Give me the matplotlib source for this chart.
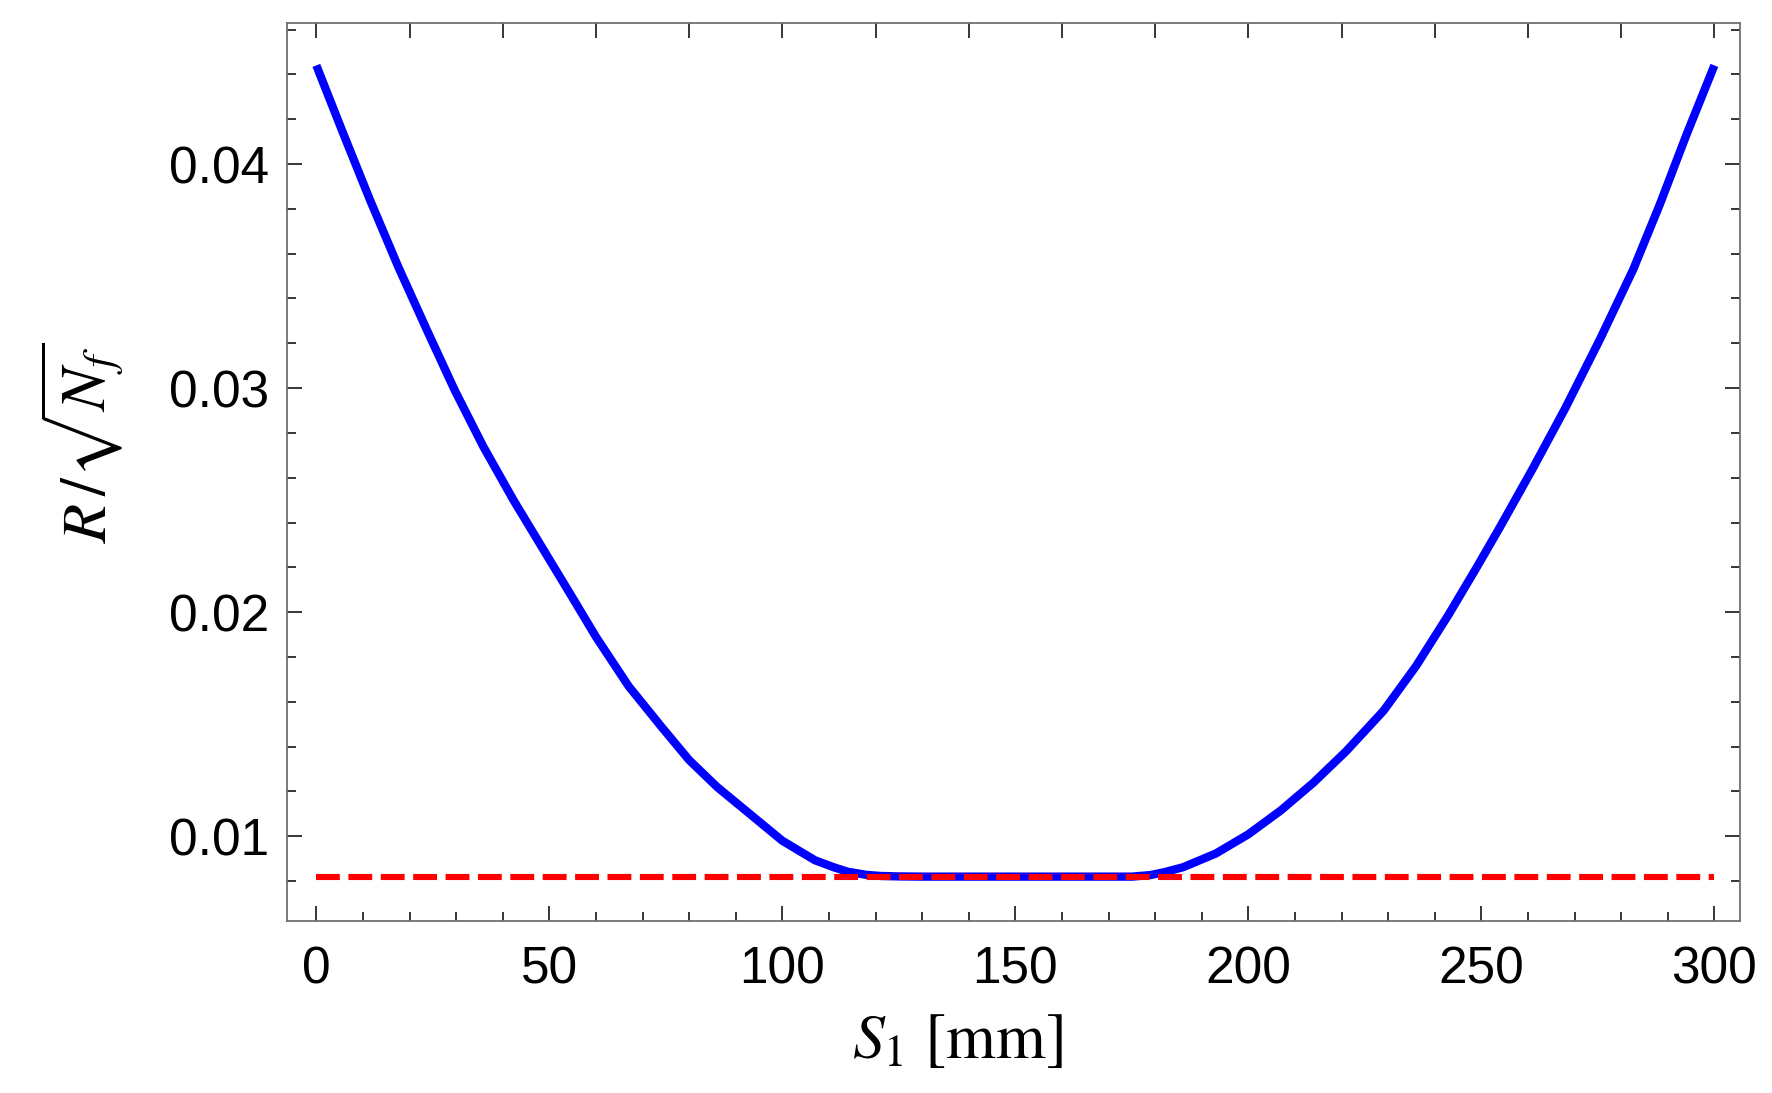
import numpy as np
import matplotlib.pyplot as plt
from matplotlib.ticker import MultipleLocator

# --- data ---
s1_mm = [0, 5.5, 11.5, 17.6, 23.7, 29.7, 35.8, 42.3, 48.7, 55.1, 60, 67, 74, 80, 86,
         93, 100, 107, 111, 114, 118, 121, 125, 130, 150, 170, 175, 179, 182, 186, 193,
         200, 207, 214, 221, 229, 236, 243, 249, 254, 261, 268, 275.5, 282.6, 288.3,
         294, 300]
r_norm = [0.0444, 0.0415, 0.0384, 0.0354, 0.0326, 0.0299, 0.0274, 0.0250, 0.0228,
          0.0206, 0.0189, 0.0167, 0.0149, 0.0134, 0.0122, 0.0110, 0.0098, 0.00893,
          0.00862, 0.00842, 0.00828, 0.00823, 0.00821, 0.0082, 0.0082, 0.0082, 0.0082,
          0.00827, 0.00840, 0.00862, 0.00923, 0.01009, 0.01116, 0.0124, 0.0138, 0.0156,
          0.0176, 0.0199, 0.0220, 0.0238, 0.0264, 0.0291, 0.0322, 0.0353, 0.0382,
          0.0413, 0.0444]
limit_x = [0, 300]
limit_y = [0.00818, 0.00818]

plt.rcParams['mathtext.fontset'] = 'stix'
plt.rcParams['font.family'] = 'Liberation Sans'

W, H = 1772, 1093
fig = plt.figure(figsize=(W / 100, H / 100), dpi=100)
ax = fig.add_axes([287 / W, 1 - 921 / H, (1740 - 287) / W, (921 - 22.6) / H])

ax.plot(s1_mm, r_norm, color='#0000ff', lw=6.0, solid_capstyle='butt', solid_joinstyle='round')
ax.plot(limit_x, limit_y, color='#ff0000', lw=4.4, dashes=(3.9, 1.4), dash_capstyle='butt')

ax.set_xlim(-6.3, 305.5)
ax.set_ylim(0.00622, 0.04631)

ax.xaxis.set_major_locator(MultipleLocator(50))
ax.xaxis.set_minor_locator(MultipleLocator(10))
ax.yaxis.set_minor_locator(MultipleLocator(0.002))
ax.set_yticks([0.01, 0.02, 0.03, 0.04])
ax.set_yticklabels(['0.01', '0.02', '0.03', '0.04'])

for sp in ax.spines.values():
    sp.set_color('#707070')
    sp.set_linewidth(1.3)

ax.tick_params(which='both', direction='in', width=1.1, color='black',
               left=True, right=True, bottom=True, top=False, labelsize=37)
ax.tick_params(which='major', length=11)
ax.tick_params(which='minor', length=6.8)
ax.tick_params(axis='x', pad=18)
ax.tick_params(axis='y', pad=13)

# top frame: unlabeled ticks every 20
top = ax.secondary_xaxis('top')
top.set_xticks(np.arange(0, 301, 20))
top.tick_params(direction='in', length=11, width=1.1, color='black', labeltop=False)
top.spines['top'].set_visible(False)

fig.text(957 / W, 1 - 1041 / H, r'$S_1\ \mathrm{[mm]}$', fontsize=46, ha='center', va='center')
fig.text(82 / W, 1 - 443 / H, r'$R\,/\sqrt{N_f}$', fontsize=46, rotation=90, ha='center', va='center')

fig.savefig('out.png', dpi=100)
